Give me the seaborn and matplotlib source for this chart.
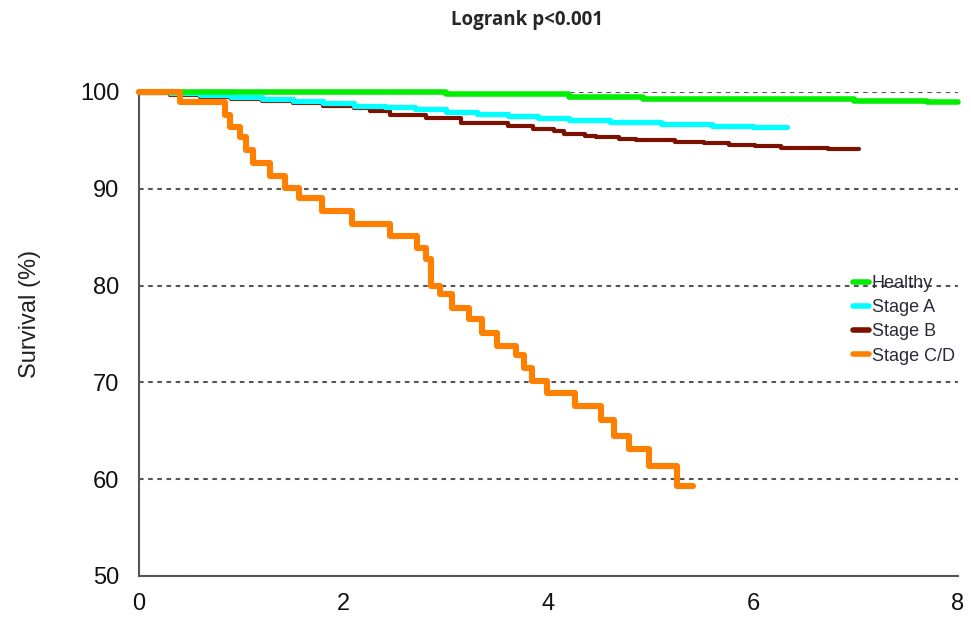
import numpy as np
import pandas as pd
import seaborn as sns
import matplotlib
matplotlib.use('Agg')
import matplotlib.pyplot as plt


# Curvas de sobrevida (tempo em anos, sobrevida em %)
healthy_t = [0, 3.0, 4.2, 4.92, 6.98, 7.70, 8.0]
healthy_s = [100, 99.75, 99.5, 99.3, 99.1, 98.95, 98.95]

stage_a_t = [0, 0.3, 0.6, 0.9, 1.2, 1.5, 1.8, 2.1, 2.4, 2.7, 3.0, 3.3, 3.6, 3.9, 4.2, 4.6, 5.1, 5.6, 6.0, 6.33]
stage_a_s = [100, 99.9, 99.7, 99.5, 99.3, 99.1, 98.9, 98.6, 98.4, 98.2, 97.9, 97.7, 97.5, 97.3, 97.1, 96.9, 96.7, 96.45, 96.35, 96.35]

stage_b_t = [0, 0.3, 0.6, 0.9, 1.2, 1.5, 1.8, 2.1, 2.26, 2.45, 2.8, 3.15, 3.6, 3.85, 4.05, 4.15, 4.36, 4.46,
             4.69, 4.85, 5.24, 5.52, 5.76, 6.02, 6.27, 6.73, 7.03]
stage_b_s = [99.9, 99.7, 99.5, 99.25, 99.05, 98.85, 98.6, 98.3, 98.0, 97.6, 97.3, 96.8, 96.5, 96.2, 96.0, 95.7, 95.5, 95.3,
             95.15, 95.05, 94.85, 94.7, 94.55, 94.4, 94.25, 94.1, 94.1]

stage_cd_t = [0, 0.40, 0.84, 0.89, 0.99, 1.05, 1.11, 1.28, 1.43, 1.56, 1.79, 2.08, 2.45, 2.72, 2.80, 2.85, 2.94,
              3.06, 3.22, 3.35, 3.50, 3.68, 3.76, 3.84, 3.99, 4.26, 4.51, 4.64, 4.79, 4.98, 5.26, 5.41]
stage_cd_s = [100, 99.0, 97.6, 96.4, 95.3, 94.0, 92.7, 91.3, 90.1, 89.0, 87.7, 86.4, 85.1, 83.9, 82.7, 80.0, 79.1,
              77.7, 76.5, 75.1, 73.8, 72.8, 71.5, 70.1, 68.9, 67.6, 66.1, 64.5, 63.1, 61.4, 59.3, 59.3]

grupos = ['Healthy', 'Stage A', 'Stage B', 'Stage C/D']
cores = ['#00ee00', '#00ffff', '#7b1100', '#ff7f00']
larguras = [4.0, 3.8, 3.0, 4.4]
ordem_z = [5, 4, 3, 6]

tempos = [healthy_t, stage_a_t, stage_b_t, stage_cd_t]
sobrevidas = [healthy_s, stage_a_s, stage_b_s, stage_cd_s]

df_sobrevida = pd.concat(
    [pd.DataFrame({'tempo': t, 'sobrevida': s, 'grupo': g}) for t, s, g in zip(tempos, sobrevidas, grupos)],
    ignore_index=True)

sns.set_style('white')
plt.rcParams['font.family'] = ['Liberation Sans', 'DejaVu Sans']

fig = plt.figure(figsize=(9.71, 6.25), dpi=100)
ax = fig.add_axes([139 / 971, 49 / 625, (958 - 139) / 971, (576 - 92) / 625])

for g, c, lw, z in zip(grupos, cores, larguras, ordem_z):
    sns.lineplot(data=df_sobrevida[df_sobrevida['grupo'] == g], x='tempo', y='sobrevida',
                 color=c, linewidth=lw, drawstyle='steps-post', estimator=None, sort=False,
                 label=g, ax=ax, clip_on=False, zorder=z)

ax.set_xlim(0, 8)
ax.set_ylim(50, 100)
ax.set_xticks([0, 2, 4, 6, 8])
ax.set_yticks([50, 60, 70, 80, 90, 100])
ax.yaxis.grid(True, linestyle=(0, (2.2, 2.2)), color='#555555', linewidth=1.5)
ax.xaxis.grid(False)
ax.set_axisbelow(True)

for lado in ['top', 'right']:
    ax.spines[lado].set_visible(False)
for lado in ['left', 'bottom']:
    ax.spines[lado].set_color('#555555')
    ax.spines[lado].set_linewidth(1.5)

ax.tick_params(axis='both', length=0, labelsize=17, colors='#111111')
ax.tick_params(axis='y', pad=14)
ax.tick_params(axis='x', pad=12)

ax.set_xlabel('')
ax.set_ylabel('')
fig.text(30 / 971, 1 - 314 / 625, 'Survival (%)', rotation=90, ha='center', va='center',
         fontsize=17, color='#222222')

leg = ax.legend(loc='upper left', bbox_to_anchor=(853 / 971, 1 - 275 / 625), bbox_transform=fig.transFigure,
                frameon=False, fontsize=13, handlelength=0.9, handletextpad=0.15, labelspacing=0.4,
                borderaxespad=0, borderpad=0)
for txt in leg.get_texts():
    txt.set_color('#2a2a3a')
for h in leg.get_lines():
    h.set_linewidth(4)

fig.text(527 / 971, 1 - 20 / 625, 'Logrank p<0.001', ha='center', va='center',
         fontsize=13.5, fontweight='bold', family=['Open Sans', 'DejaVu Sans'])

fig.savefig('out.png', dpi=100)
